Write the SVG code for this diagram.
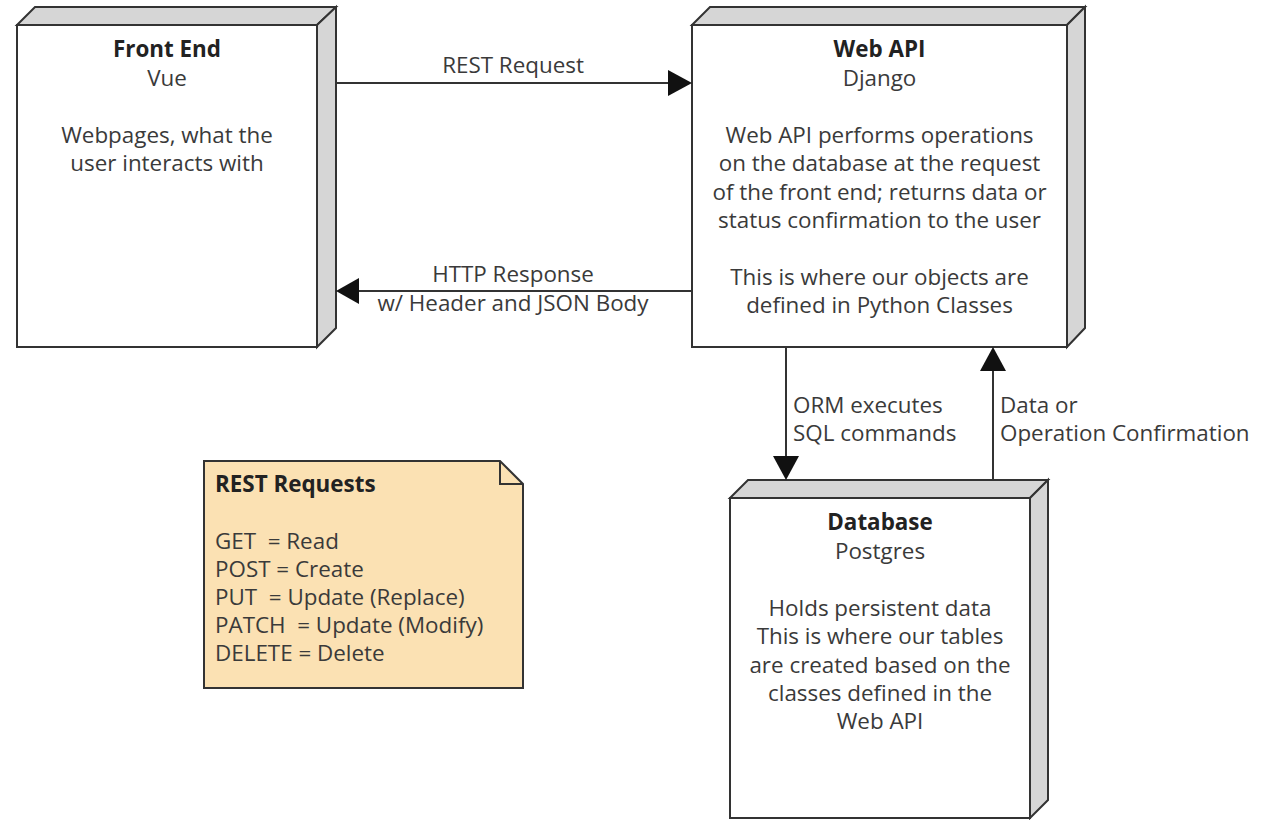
<svg xmlns="http://www.w3.org/2000/svg" width="1278" height="820" viewBox="0 0 1278 820">
<style>
.face{fill:#ffffff;stroke:#333333;stroke-width:2;stroke-linejoin:miter}
.side{fill:#d6d6d6;stroke:#333333;stroke-width:2;stroke-linejoin:miter}
.note{fill:#fbe1b3;stroke:#333333;stroke-width:2}
.t{font-family:"Open Sans","Noto Sans",sans-serif;font-size:22.4px;fill:#3a3a3a;text-anchor:middle}
.b{font-weight:bold;fill:#222222}
.l{text-anchor:start}
.pre{white-space:pre}
.line{stroke:#333333;stroke-width:2;fill:none}
.head{fill:#111111;stroke:none}
</style>
<rect width="1278" height="820" fill="#ffffff"/>
<g id="front-end">
<polygon class="side" points="17,25 35,7 336,7 317,25"/>
<polygon class="side" points="317,25 336,7 336,328 317,347"/>
<rect class="face" x="17" y="25" width="300" height="322"/>
<text class="t b" x="167" y="57">Front End</text>
<text class="t" x="167" y="86">Vue</text>
<text class="t" x="167" y="143">Webpages, what the</text>
<text class="t" x="167" y="171">user interacts with</text>
</g>
<g id="web-api">
<polygon class="side" points="692,25 710,7 1085,7 1067,25"/>
<polygon class="side" points="1067,25 1085,7 1085,328 1067,347"/>
<rect class="face" x="692" y="25" width="375" height="322"/>
<text class="t b" x="879.5" y="57">Web API</text>
<text class="t" x="879.5" y="86">Django</text>
<text class="t" x="879.5" y="143">Web API performs operations</text>
<text class="t" x="879.5" y="171">on the database at the request</text>
<text class="t" x="879.5" y="200">of the front end; returns data or</text>
<text class="t" x="879.5" y="228">status confirmation to the user</text>
<text class="t" x="879.5" y="285">This is where our objects are</text>
<text class="t" x="879.5" y="313">defined in Python Classes</text>
</g>
<g id="database">
<polygon class="side" points="730,498 748,480 1048,480 1030,498"/>
<polygon class="side" points="1030,498 1048,480 1048,800 1030,818"/>
<rect class="face" x="730" y="498" width="300" height="320"/>
<text class="t b" x="880" y="530">Database</text>
<text class="t" x="880" y="559">Postgres</text>
<text class="t" x="880" y="616">Holds persistent data</text>
<text class="t" x="880" y="644">This is where our tables</text>
<text class="t" x="880" y="673">are created based on the</text>
<text class="t" x="880" y="701">classes defined in the</text>
<text class="t" x="880" y="729">Web API</text>
</g>
<g id="rest-note">
<polygon class="note" points="204,461 500,461 523,484 523,688 204,688"/>
<polyline class="line" points="500,461 500,484 523,484"/>
<text class="t b l" x="215" y="492">REST Requests</text>
<text class="t l pre" x="215" y="549" xml:space="preserve">GET  = Read</text>
<text class="t l pre" x="215" y="577" xml:space="preserve">POST = Create</text>
<text class="t l pre" x="215" y="605" xml:space="preserve">PUT  = Update (Replace)</text>
<text class="t l pre" x="215" y="633" xml:space="preserve">PATCH  = Update (Modify)</text>
<text class="t l pre" x="215" y="661" xml:space="preserve">DELETE = Delete</text>
</g>
<g id="connectors">
<line class="line" x1="336" y1="83" x2="670" y2="83"/>
<polygon class="head" points="692,83 668,70 668,96"/>
<text class="t" x="513" y="73">REST Request</text>
<line class="line" x1="692" y1="291" x2="356" y2="291"/>
<polygon class="head" points="336,291 359,278 359,304"/>
<text class="t" x="513" y="282">HTTP Response</text>
<text class="t" x="513" y="311">w/ Header and JSON Body</text>
<line class="line" x1="786" y1="347" x2="786" y2="458"/>
<polygon class="head" points="786,480 773,456 799,456"/>
<text class="t l" x="793" y="413">ORM executes</text>
<text class="t l" x="793" y="441">SQL commands</text>
<line class="line" x1="993" y1="480" x2="993" y2="368"/>
<polygon class="head" points="993,347 980,371 1006,371"/>
<text class="t l" x="1000" y="413">Data or</text>
<text class="t l" x="1000" y="441">Operation Confirmation</text>
</g>
</svg>
